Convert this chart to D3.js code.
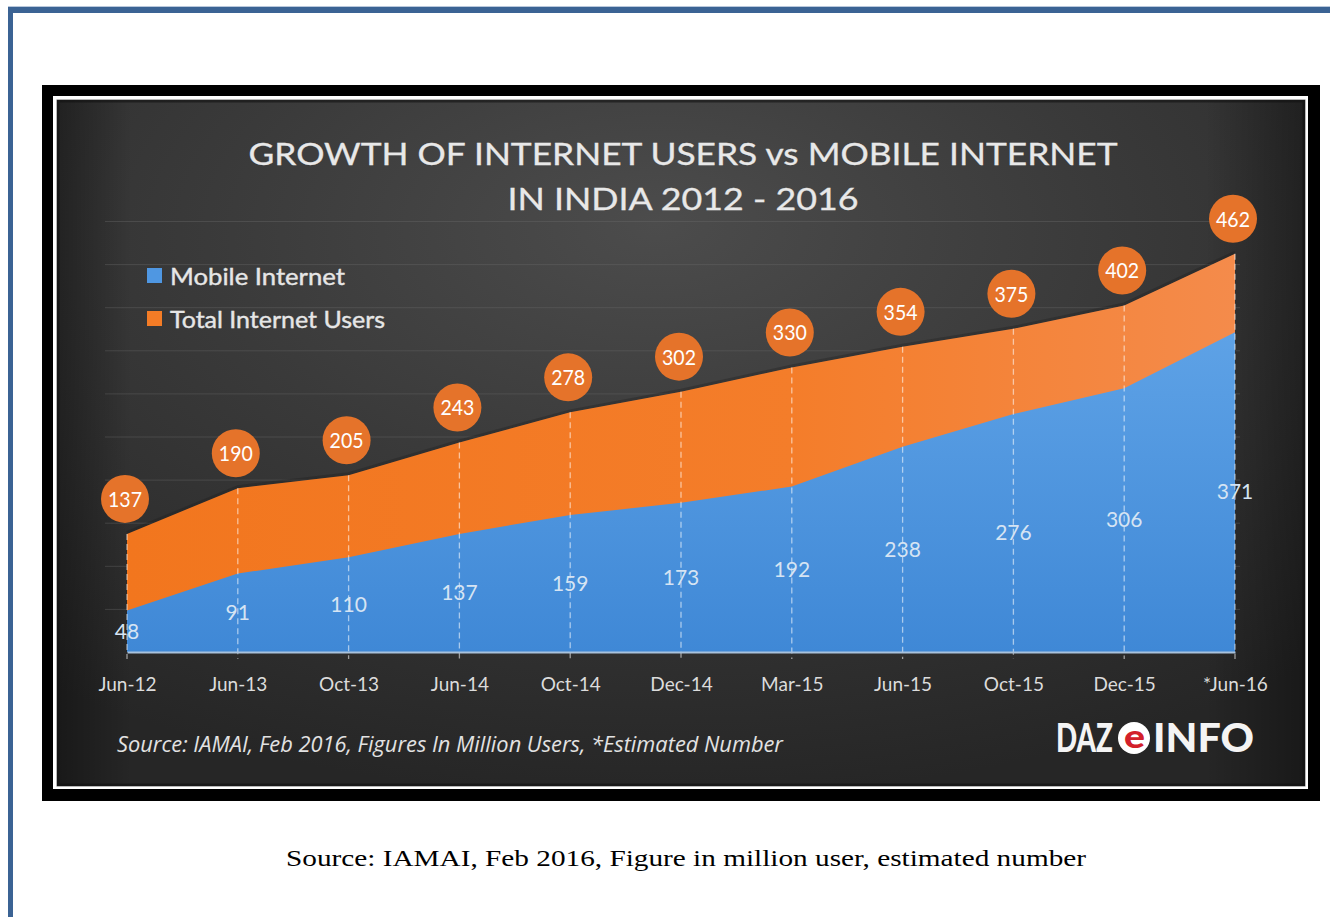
<!DOCTYPE html>
<html>
<head>
<meta charset="utf-8">
<script src="https://cdn.jsdelivr.net/npm/d3@7"></script>
<style>
  html, body { margin: 0; padding: 0; background: #ffffff; }
  svg { display: block; }
</style>
</head>
<body>
<svg id="chart" width="1330" height="917"></svg>
<script>
// Internet users in India, in millions
const categories = ["Jun-12", "Jun-13", "Oct-13", "Jun-14", "Oct-14", "Dec-14",
                    "Mar-15", "Jun-15", "Oct-15", "Dec-15", "*Jun-16"];
const mobileInternet = [48, 91, 110, 137, 159, 173, 192, 238, 276, 306, 371];
const totalUsers = [137, 190, 205, 243, 278, 302, 330, 354, 375, 402, 462];
const gridValues = [50, 100, 150, 200, 250, 300, 350, 400, 450, 500];
const legendItems = [
  { label: "Mobile Internet", color: "#4f97e2" },
  { label: "Total Internet Users", color: "#f47c26" }
];

const svg = d3.select("#chart");
const defs = svg.append("defs");

// page border
svg.append("rect").attr("x", 8).attr("y", 6).attr("width", 1322).attr("height", 1).attr("fill", "#b9c8dc");
svg.append("rect").attr("x", 8).attr("y", 7).attr("width", 1322).attr("height", 6).attr("fill", "#3b6394");
svg.append("rect").attr("x", 8).attr("y", 7).attr("width", 5).attr("height", 910).attr("fill", "#3b6394");

// framed panel
svg.append("rect").attr("x", 42).attr("y", 85).attr("width", 1278).attr("height", 716).attr("fill", "#000");
svg.append("rect").attr("x", 53).attr("y", 96).attr("width", 1255).attr("height", 693).attr("fill", "#ffffff");

const bg = defs.append("radialGradient").attr("id", "bgGrad")
  .attr("cx", "48%").attr("cy", "22%").attr("r", "80%")
  .attr("fx", "48%").attr("fy", "18%");
bg.append("stop").attr("offset", "0%").attr("stop-color", "#4c4c4c");
bg.append("stop").attr("offset", "45%").attr("stop-color", "#3a3a3a");
bg.append("stop").attr("offset", "100%").attr("stop-color", "#262626");
svg.append("rect").attr("x", 57).attr("y", 100).attr("width", 1248).attr("height", 686).attr("fill", "url(#bgGrad)");

// darker vignette along the panel edges
const vig = defs.append("linearGradient").attr("id", "vigH").attr("x1", "0").attr("x2", "1");
vig.append("stop").attr("offset", "0%").attr("stop-color", "#000").attr("stop-opacity", 0.35);
vig.append("stop").attr("offset", "6%").attr("stop-color", "#000").attr("stop-opacity", 0);
vig.append("stop").attr("offset", "92%").attr("stop-color", "#000").attr("stop-opacity", 0);
vig.append("stop").attr("offset", "100%").attr("stop-color", "#000").attr("stop-opacity", 0.35);
svg.append("rect").attr("x", 57).attr("y", 100).attr("width", 1248).attr("height", 686).attr("fill", "url(#vigH)");
svg.append("rect").attr("x", 58).attr("y", 101).attr("width", 1246).attr("height", 684)
  .attr("fill", "none").attr("stroke", "#111").attr("stroke-opacity", 0.6).attr("stroke-width", 3);

// scales
const x = d3.scalePoint().domain(categories).range([127, 1235]);
const y = d3.scaleLinear().domain([0, 500]).range([652, 221]);

// horizontal grid
svg.append("g")
  .attr("transform", "translate(105,0)")
  .call(d3.axisLeft(y).tickValues(gridValues).tickSize(-1135).tickFormat(""))
  .call(g => g.select(".domain").remove())
  .call(g => g.selectAll(".tick line").attr("stroke", "#6a6a6a").attr("stroke-opacity", 0.4).attr("stroke-width", 1));

// title
const title = svg.append("g").attr("fill", "#e8e8e8").attr("stroke", "#e8e8e8").attr("stroke-width", 0.3)
  .style("font-family", "Lato, 'Open Sans', sans-serif").style("font-weight", 400);
title.append("text").attr("x", 683).attr("y", 165).attr("text-anchor", "middle")
  .style("font-size", "30px").attr("textLength", 869).attr("lengthAdjust", "spacingAndGlyphs")
  .text("GROWTH OF INTERNET USERS vs MOBILE INTERNET");
title.append("text").attr("x", 683).attr("y", 210).attr("text-anchor", "middle")
  .style("font-size", "30px").attr("textLength", 351).attr("lengthAdjust", "spacingAndGlyphs")
  .text("IN INDIA 2012 - 2016");

// legend
const legend = svg.append("g").style("font-family", "Lato, 'Open Sans', sans-serif");
const legendWidths = [175, 215];
legendItems.forEach((d, i) => {
  const ly = 268 + i * 43;
  legend.append("rect").attr("x", 147).attr("y", ly).attr("width", 15).attr("height", 15).attr("fill", d.color);
  legend.append("text").attr("x", 170).attr("y", ly + 17)
    .style("font-size", "24px").style("font-weight", 400)
    .attr("fill", "#e6e6e6").attr("stroke", "#e6e6e6").attr("stroke-width", 0.4)
    .attr("textLength", legendWidths[i]).attr("lengthAdjust", "spacingAndGlyphs")
    .text(d.label);
});

// area fills
const orangeGrad = defs.append("linearGradient").attr("id", "orangeGrad").attr("x1", "0").attr("x2", "1");
orangeGrad.append("stop").attr("offset", "0%").attr("stop-color", "#f2761e");
orangeGrad.append("stop").attr("offset", "60%").attr("stop-color", "#f47d2a");
orangeGrad.append("stop").attr("offset", "100%").attr("stop-color", "#f48b4b");
const blueGrad = defs.append("linearGradient").attr("id", "blueGrad").attr("x1", "0").attr("x2", "0").attr("y1", "0").attr("y2", "1");
blueGrad.append("stop").attr("offset", "0%").attr("stop-color", "#5ea2e6");
blueGrad.append("stop").attr("offset", "100%").attr("stop-color", "#3f88d6");

const totalArea = d3.area().x((d, i) => x(categories[i])).y0(y(0)).y1(d => y(d));
const topLine = d3.line().x((d, i) => x(categories[i])).y(d => y(d));

// soft shadow above the total edge
svg.append("path").datum(totalUsers).attr("d", topLine)
  .attr("fill", "none").attr("stroke", "#1a1a1a").attr("stroke-opacity", 0.3).attr("stroke-width", 3)
  .attr("transform", "translate(0,-1.5)");
svg.append("path").datum(totalUsers).attr("d", totalArea).attr("fill", "url(#orangeGrad)");
svg.append("path").datum(mobileInternet).attr("d", totalArea).attr("fill", "url(#blueGrad)");

// vertical dashed guides
svg.append("g").selectAll("line").data(totalUsers).join("line")
  .attr("x1", (d, i) => x(categories[i])).attr("x2", (d, i) => x(categories[i]))
  .attr("y1", d => y(d)).attr("y2", y(0) + 7)
  .attr("stroke", "#ffffff").attr("stroke-opacity", 0.55).attr("stroke-width", 1.3)
  .attr("stroke-dasharray", "6,4");

// x axis
svg.append("g")
  .attr("transform", `translate(0,${y(0)})`)
  .call(d3.axisBottom(x).tickSize(0).tickSizeOuter(0).tickPadding(26))
  .call(g => g.select(".domain").attr("stroke", "#a9c2dc").attr("stroke-width", 2))
  .call(g => g.selectAll(".tick text")
    .attr("fill", "#dcdcdc")
    .style("font-family", "Lato, 'Open Sans', sans-serif")
    .style("font-size", "19px"));

// mobile value labels, centred in the blue band
svg.append("g").selectAll("text").data(mobileInternet).join("text")
  .attr("x", (d, i) => x(categories[i]))
  .attr("y", d => y(d / 2))
  .attr("dy", "0.35em")
  .attr("text-anchor", "middle")
  .attr("fill", "#d6e4f3")
  .style("font-family", "Lato, 'Open Sans', sans-serif")
  .style("font-size", "21px")
  .text(d => d);

// total value badges
const badges = svg.append("g").selectAll("g").data(totalUsers).join("g")
  .attr("transform", (d, i) => `translate(${x(categories[i]) - 2},${y(d) - 35})`);
badges.append("circle").attr("r", 24).attr("fill", "#e5732a");
badges.append("text")
  .attr("text-anchor", "middle").attr("dy", "0.36em")
  .attr("fill", "#ffffff")
  .style("font-family", "Lato, 'Open Sans', sans-serif")
  .style("font-size", "22px")
  .attr("textLength", 34).attr("lengthAdjust", "spacingAndGlyphs")
  .text(d => d);

// footer source note
svg.append("text").attr("x", 117).attr("y", 752)
  .attr("fill", "#e2e2e2")
  .style("font-family", "'Open Sans', Lato, sans-serif").style("font-style", "italic")
  .style("font-size", "22px")
  .attr("textLength", 666).attr("lengthAdjust", "spacingAndGlyphs")
  .text("Source: IAMAI, Feb 2016, Figures In Million Users, *Estimated Number");

// wordmark: each piece is squeezed horizontally to its slot
function fitWord(text, left, width, base, size, color) {
  const t = svg.append("text").attr("x", 0).attr("y", 0)
    .style("font-family", "Lato, 'DejaVu Sans', sans-serif").style("font-weight", 900)
    .style("font-size", size + "px").attr("fill", color).text(text);
  const w = t.node().getComputedTextLength();
  t.attr("transform", `translate(${left},${base}) scale(${width / w},1)`);
  return t;
}
svg.append("circle").attr("cx", 1134).attr("cy", 738).attr("r", 16).attr("fill", "#ffffff");
fitWord("DAZ", 1056, 57, 752, 40, "#f4f4f4");
fitWord("e", 1124, 21, 748, 32, "#d3202a");
fitWord("INFO", 1153, 101, 752, 40, "#f4f4f4");

// caption below the panel
svg.append("text").attr("x", 686).attr("y", 866).attr("text-anchor", "middle")
  .attr("fill", "#000")
  .style("font-family", "'Liberation Serif', 'Times New Roman', serif")
  .style("font-size", "24px")
  .attr("textLength", 800).attr("lengthAdjust", "spacingAndGlyphs")
  .text("Source: IAMAI, Feb 2016, Figure in million user, estimated number");
</script>
</body>
</html>
